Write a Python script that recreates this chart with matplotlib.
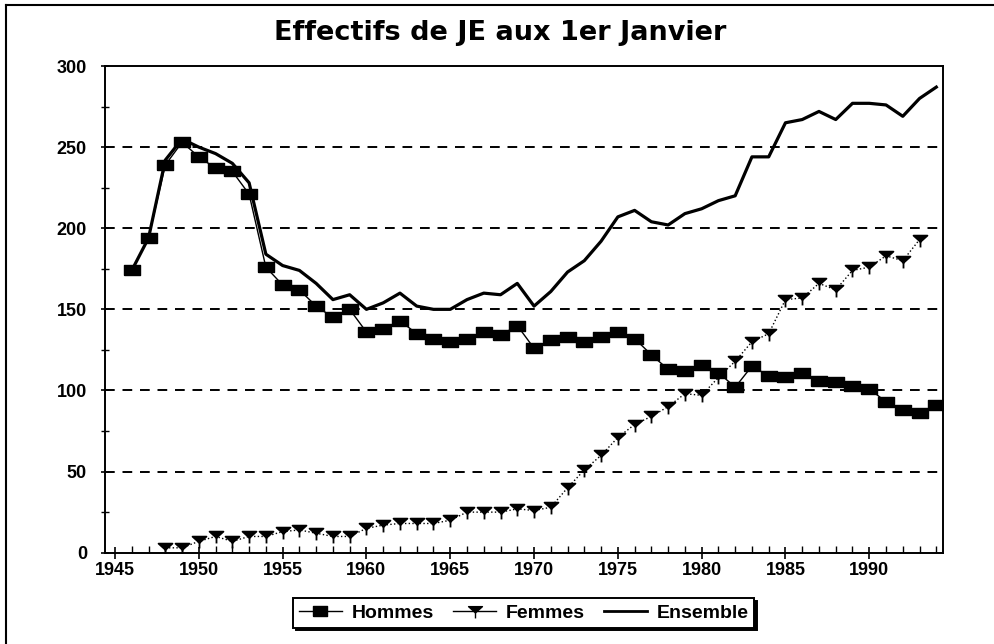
import matplotlib
matplotlib.use('Agg')
import matplotlib.pyplot as plt
from matplotlib.path import Path
from matplotlib.lines import Line2D
import numpy as np

# valeurs
annees_h = list(range(1946, 1995))
hommes = [174, 194, 239, 253, 244, 237, 235, 221, 176, 165,
          162, 152, 145, 150, 136, 138, 143, 135, 132, 130,
          132, 136, 134, 140, 126, 131, 133, 130, 133, 136,
          132, 122, 113, 112, 116, 111, 102, 115, 109, 108,
          111, 106, 105, 103, 101, 93, 88, 86, 91]

annees_f = list(range(1948, 1994))
femmes = [3, 3, 7, 10, 7, 10, 10, 13, 14, 12,
          10, 10, 15, 17, 18, 18, 18, 20, 25, 25,
          25, 27, 26, 28, 40, 51, 60, 71, 79, 84,
          90, 98, 97, 108, 118, 130, 135, 156, 157, 166,
          162, 174, 176, 183, 180, 193]

annees_e = list(range(1946, 1995))
ensemble = [174, 194, 242, 255, 250, 246, 240, 228, 184, 177,
            174, 166, 156, 159, 150, 154, 160, 152, 150, 150,
            156, 160, 159, 166, 152, 161, 173, 180, 192, 207,
            211, 204, 202, 209, 212, 217, 220, 244, 244, 265,
            267, 272, 267, 277, 277, 276, 269, 280, 287]

plt.rcParams['font.family'] = ['Liberation Sans', 'DejaVu Sans']
plt.rcParams['font.weight'] = 'bold'

fig = plt.figure(figsize=(9.94, 6.44), dpi=100)
ax = fig.add_axes([0.1056, 0.1418, 0.8431, 0.7557])

# marqueurs
carre = [(-1.2, -0.8), (1.2, -0.8), (1.2, 0.8), (-1.2, 0.8), (-1.2, -0.8)]
fem_verts = [(-1, 0.7), (1, 0.7), (0, -0.2), (-1, 0.7), (0, -0.2), (0, -1)]
fem_codes = [Path.MOVETO, Path.LINETO, Path.LINETO, Path.CLOSEPOLY, Path.MOVETO, Path.LINETO]
fem_marker = Path(fem_verts, fem_codes)

ax.plot(annees_e, ensemble, color='black', lw=2.3, zorder=4)
ax.plot(annees_h, hommes, color='black', lw=1.0, marker=carre, markersize=11,
        markerfacecolor='black', markeredgecolor='black', zorder=3)
ax.plot(annees_f, femmes, color='black', lw=1.0, ls=':', marker=fem_marker, markersize=10,
        markerfacecolor='black', markeredgecolor='black', markeredgewidth=1.3, zorder=3)

# grille
for v in [50, 100, 150, 200, 250]:
    ax.axhline(v, color='black', lw=1.4, dashes=(5, 4), zorder=1)

ax.set_xlim(1944.4, 1994.4)
ax.set_ylim(0, 300)
ax.set_xticks(range(1945, 1995, 5))
ax.set_xticks(range(1945, 1995), minor=True)
ax.set_yticks(range(0, 301, 50))
ax.set_yticks(range(25, 300, 50), minor=True)
ax.tick_params(axis='x', which='major', direction='inout', length=9, width=1.2, pad=2, labelsize=13)
ax.tick_params(axis='x', which='minor', direction='in', length=5, width=1.0)
ax.tick_params(axis='y', which='major', direction='inout', length=6, width=1.2, pad=10, labelsize=13)
ax.tick_params(axis='y', which='minor', direction='inout', length=6, width=1.0)
for lab in ax.get_xticklabels() + ax.get_yticklabels():
    lab.set_fontweight('bold')
for s in ax.spines.values():
    s.set_linewidth(1.4)
    s.set_color('black')

fig.text(0.503, 0.949, 'Effectifs de JE aux 1er Janvier', ha='center', va='center',
         fontsize=19.5, fontweight='bold', family='DejaVu Sans')

# cadre extérieur
fig.add_artist(Line2D([0.006, 0.006], [0.0, 0.992], color='black', lw=1.5, transform=fig.transFigure))
fig.add_artist(Line2D([0.006, 1.0], [0.992, 0.992], color='black', lw=1.5, transform=fig.transFigure))

handles = [
    Line2D([], [], color='black', lw=1.0, marker=carre, markersize=10, markerfacecolor='black'),
    Line2D([], [], color='black', lw=1.0, marker=fem_marker, markersize=10, markerfacecolor='black'),
    Line2D([], [], color='black', lw=2.0),
]
leg = fig.legend(handles, ['Hommes', 'Femmes', 'Ensemble'], loc='center',
                 bbox_to_anchor=(0.527, 0.048), ncol=3, frameon=True, fancybox=False,
                 edgecolor='black', handlelength=2.2, handletextpad=0.5, columnspacing=1.0,
                 borderpad=0.3, prop={'weight': 'bold', 'size': 14},
                 shadow={'ox': 1.8, 'oy': -1.8, 'color': 'black', 'alpha': 1})
leg.get_frame().set_linewidth(1.4)

plt.savefig('out.png', dpi=100)
